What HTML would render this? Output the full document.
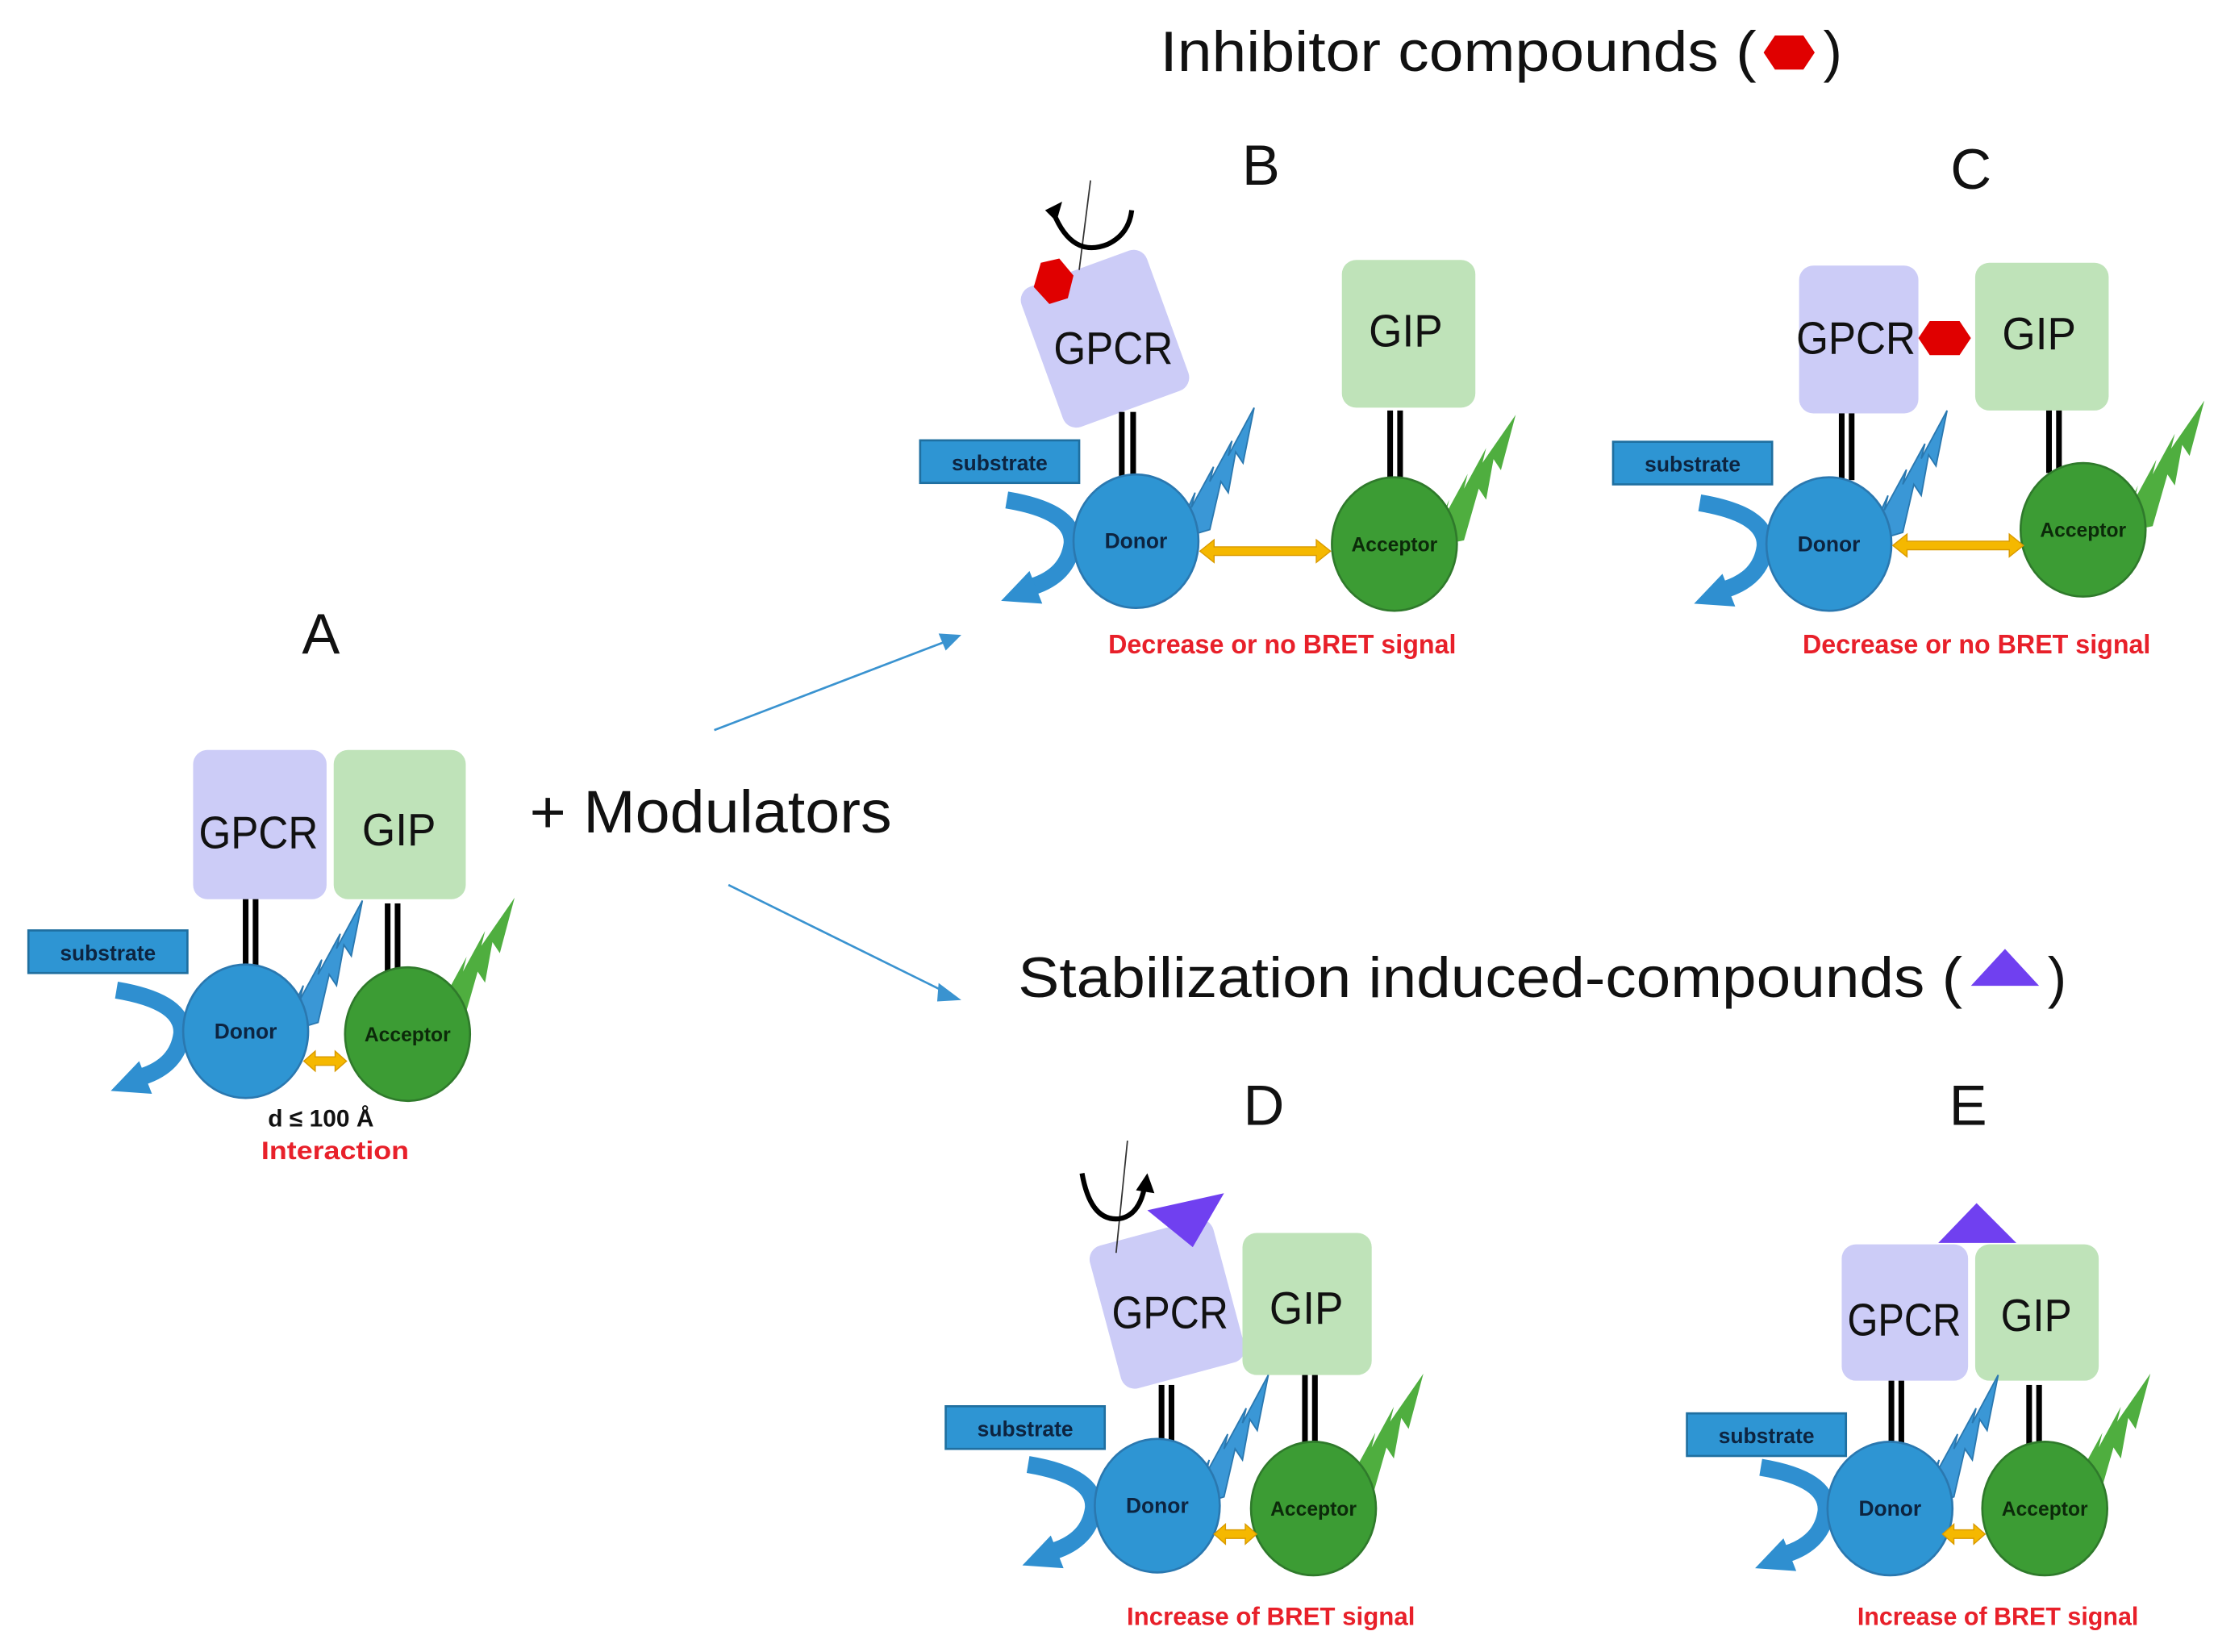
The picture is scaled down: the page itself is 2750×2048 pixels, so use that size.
<!DOCTYPE html>
<html><head><meta charset="utf-8"><style>
html,body{margin:0;padding:0;background:#fff;}
svg{display:block;}
text{font-family:"Liberation Sans","DejaVu Sans",sans-serif;}
</style></head><body>
<svg width="2750" height="2048" viewBox="0 0 1562 1163" preserveAspectRatio="none" xmlns="http://www.w3.org/2000/svg">
<defs>
<g id="boltB"><path transform="scale(1.3)" d="M0,12 L12,-14 L10,-6 L22,-28 L20,-20 L32,-42 L30,-34 L44,-60 L38,-30 L34,-36 L30,-14 L26,-20 L20,6 Z" fill="#3a97d6" stroke="#2a78b0" stroke-width="0.8"/></g>
<g id="boltG"><path transform="scale(1.3)" d="M0,12 L12,-14 L10,-6 L22,-28 L20,-20 L32,-42 L30,-34 L48,-60 L40,-30 L36,-36 L32,-14 L28,-20 L20,8 Z" fill="#4fae3f"/></g>
<g id="curl"><path d="M-91,-29 Q-43,-21 -45,2 Q-48,24 -73,32" fill="none" stroke="#2f8fd0" stroke-width="12"/><polygon points="-75,21 -95,42 -66,44" fill="#2f8fd0"/></g>
<g id="donor"><use href="#curl"/><ellipse cx="0" cy="0" rx="44" ry="47" fill="#2e95d3" stroke="#2a78b0" stroke-width="1.5"/><text x="0" y="5" font-size="15" font-weight="bold" text-anchor="middle" fill="#0d2440">Donor</text></g>
<g id="acc"><ellipse cx="0" cy="0" rx="44" ry="47" fill="#3c9c34" stroke="#2f7a2b" stroke-width="1.5"/><text x="0" y="5" font-size="14" font-weight="bold" text-anchor="middle" fill="#0c2a0a">Acceptor</text></g>
<g id="sub"><rect x="0" y="0" width="112" height="30" fill="#2e95d3" stroke="#1f6fa0" stroke-width="1.5"/><text x="56" y="21" font-size="15" font-weight="bold" text-anchor="middle" fill="#0d2440">substrate</text></g>
</defs>

<!-- Titles -->
<text x="817" y="50" font-size="40" fill="#111" textLength="420" lengthAdjust="spacingAndGlyphs">Inhibitor compounds (</text>
<polygon points="1250,25 1270,25 1278,37 1270,49 1250,49 1242,37" fill="#e00000"/>
<text x="1284" y="50" font-size="40" fill="#111">)</text>
<text x="717" y="702" font-size="40" fill="#111" textLength="665" lengthAdjust="spacingAndGlyphs">Stabilization induced-compounds (</text>
<polygon points="1388,694 1436,694 1412,668" fill="#7040f0"/>
<text x="1442" y="702" font-size="40" fill="#111">)</text>
<text x="373" y="586" font-size="42" fill="#111" textLength="255" lengthAdjust="spacingAndGlyphs">+ Modulators</text>

<!-- arrows -->
<line x1="503" y1="514" x2="665" y2="452" stroke="#3a93d0" stroke-width="1.5"/>
<polygon points="677,447 661,446 666,458" fill="#3a93d0"/>
<line x1="513" y1="623" x2="665" y2="698" stroke="#3a93d0" stroke-width="1.5"/>
<polygon points="677,704 661,692 660,705" fill="#3a93d0"/>

<!-- Panel A -->
<text x="226" y="460" font-size="40" text-anchor="middle" fill="#111">A</text>
<rect x="136" y="528" width="94" height="105" rx="10" fill="#ccccf7"/>
<text x="182" y="597" font-size="32" text-anchor="middle" fill="#111" textLength="84" lengthAdjust="spacingAndGlyphs">GPCR</text>
<rect x="235" y="528" width="93" height="105" rx="10" fill="#bfe3b9"/>
<text x="281" y="595" font-size="32" text-anchor="middle" fill="#111" textLength="52" lengthAdjust="spacingAndGlyphs">GIP</text>
<rect x="171" y="633" width="4" height="48" fill="#000"/><rect x="178" y="633" width="4" height="48" fill="#000"/>
<rect x="271" y="636" width="4" height="48" fill="#000"/><rect x="278" y="636" width="4" height="48" fill="#000"/>
<use href="#boltB" x="198" y="712"/>
<use href="#boltG" x="300" y="710"/>
<use href="#sub" x="20" y="655"/>
<use href="#donor" x="173" y="726"/>
<use href="#acc" x="287" y="728"/>
<path d="M214,747 L222,740 L222,744 L236,744 L236,740 L244,747 L236,754 L236,750 L222,750 L222,754 Z" fill="#f5b800" stroke="#d99a00" stroke-width="0.8"/>
<text x="226" y="793" font-size="17" font-weight="bold" text-anchor="middle" fill="#111">d ≤ 100 Å</text>
<text x="236" y="816" font-size="18" font-weight="bold" text-anchor="middle" fill="#e8202a" textLength="104" lengthAdjust="spacingAndGlyphs">Interaction</text>

<!-- Panel B -->
<text x="888" y="130" font-size="40" text-anchor="middle" fill="#111">B</text>
<g transform="rotate(-20 778 238)"><rect x="731" y="186" width="94" height="105" rx="10" fill="#ccccf7"/></g>
<text x="784" y="256" font-size="32" text-anchor="middle" fill="#111" textLength="84" lengthAdjust="spacingAndGlyphs">GPCR</text>
<polygon points="733,185 746,182 756,194 752,210 739,214 728,202" fill="#e00000"/>
<line x1="768" y1="127" x2="760" y2="190" stroke="#333" stroke-width="1"/>
<path d="M742,150 Q755,182 780,172 Q795,165 797,148" fill="none" stroke="#000" stroke-width="3.5"/>
<polygon points="736,148 748,142 744,156" fill="#000"/>
<rect x="945" y="183" width="94" height="104" rx="10" fill="#bfe3b9"/>
<text x="990" y="244" font-size="32" text-anchor="middle" fill="#111" textLength="52" lengthAdjust="spacingAndGlyphs">GIP</text>
<rect x="788" y="290" width="4" height="47" fill="#000"/><rect x="796" y="290" width="4" height="47" fill="#000"/>
<rect x="977" y="289" width="4" height="48" fill="#000"/><rect x="984" y="289" width="4" height="48" fill="#000"/>
<use href="#boltB" x="826" y="365"/>
<use href="#boltG" x="1005" y="370"/>
<use href="#sub" x="648" y="310"/>
<use href="#donor" x="800" y="381"/>
<use href="#acc" x="982" y="383"/>
<path d="M845,388 L855,380 L855,385 L927,385 L927,380 L937,388 L927,396 L927,391 L855,391 L855,396 Z" fill="#f5b800" stroke="#d99a00" stroke-width="0.8"/>
<text x="903" y="460" font-size="19" font-weight="bold" text-anchor="middle" fill="#e8202a" textLength="245" lengthAdjust="spacingAndGlyphs">Decrease or no BRET signal</text>

<!-- Panel C -->
<text x="1388" y="133" font-size="40" text-anchor="middle" fill="#111">C</text>
<rect x="1267" y="187" width="84" height="104" rx="10" fill="#ccccf7"/>
<text x="1307" y="249" font-size="32" text-anchor="middle" fill="#111" textLength="84" lengthAdjust="spacingAndGlyphs">GPCR</text>
<rect x="1391" y="185" width="94" height="104" rx="10" fill="#bfe3b9"/>
<text x="1436" y="246" font-size="32" text-anchor="middle" fill="#111" textLength="52" lengthAdjust="spacingAndGlyphs">GIP</text>
<polygon points="1359,226 1380,226 1388,238 1380,250 1359,250 1351,238" fill="#e00000"/>
<rect x="1295" y="291" width="4" height="47" fill="#000"/><rect x="1302" y="291" width="4" height="47" fill="#000"/>
<rect x="1441" y="289" width="4" height="44" fill="#000"/><rect x="1448" y="289" width="4" height="44" fill="#000"/>
<use href="#boltB" x="1314" y="367"/>
<use href="#boltG" x="1490" y="360"/>
<use href="#sub" x="1136" y="311"/>
<use href="#donor" x="1288" y="383"/>
<use href="#acc" x="1467" y="373"/>
<path d="M1333,384 L1343,376 L1343,381 L1415,381 L1415,376 L1425,384 L1415,392 L1415,387 L1343,387 L1343,392 Z" fill="#f5b800" stroke="#d99a00" stroke-width="0.8"/>
<text x="1392" y="460" font-size="19" font-weight="bold" text-anchor="middle" fill="#e8202a" textLength="245" lengthAdjust="spacingAndGlyphs">Decrease or no BRET signal</text>

<!-- Panel D -->
<text x="890" y="792" font-size="40" text-anchor="middle" fill="#111">D</text>
<g transform="rotate(-15 822 918)"><rect x="777" y="866" width="90" height="104" rx="10" fill="#ccccf7"/></g>
<text x="824" y="935" font-size="32" text-anchor="middle" fill="#111" textLength="82" lengthAdjust="spacingAndGlyphs">GPCR</text>
<rect x="875" y="868" width="91" height="100" rx="10" fill="#bfe3b9"/>
<text x="920" y="932" font-size="32" text-anchor="middle" fill="#111" textLength="52" lengthAdjust="spacingAndGlyphs">GIP</text>
<polygon points="808,852 862,840 840,878" fill="#7040f0"/>
<line x1="794" y1="803" x2="786" y2="882" stroke="#333" stroke-width="1"/>
<path d="M762,826 Q768,860 788,858 Q802,856 806,836" fill="none" stroke="#000" stroke-width="3.5"/>
<polygon points="800,838 808,826 813,840" fill="#000"/>
<rect x="816" y="975" width="4" height="43" fill="#000"/><rect x="823" y="975" width="4" height="43" fill="#000"/>
<rect x="917" y="968" width="4" height="50" fill="#000"/><rect x="924" y="968" width="4" height="50" fill="#000"/>
<use href="#boltB" x="836" y="1046"/>
<use href="#boltG" x="940" y="1045"/>
<use href="#sub" x="666" y="990"/>
<use href="#donor" x="815" y="1060"/>
<use href="#acc" x="925" y="1062"/>
<path d="M855,1080 L863,1073 L863,1077 L877,1077 L877,1073 L885,1080 L877,1087 L877,1083 L863,1083 L863,1087 Z" fill="#f5b800" stroke="#d99a00" stroke-width="0.8"/>
<text x="895" y="1144" font-size="18" font-weight="bold" text-anchor="middle" fill="#e8202a" textLength="203" lengthAdjust="spacingAndGlyphs">Increase of BRET signal</text>

<!-- Panel E -->
<text x="1386" y="792" font-size="40" text-anchor="middle" fill="#111">E</text>
<rect x="1297" y="876" width="89" height="96" rx="10" fill="#ccccf7"/>
<text x="1341" y="940" font-size="32" text-anchor="middle" fill="#111" textLength="80" lengthAdjust="spacingAndGlyphs">GPCR</text>
<rect x="1391" y="876" width="87" height="96" rx="10" fill="#bfe3b9"/>
<text x="1434" y="937" font-size="32" text-anchor="middle" fill="#111" textLength="50" lengthAdjust="spacingAndGlyphs">GIP</text>
<polygon points="1365,875 1420,875 1392,847" fill="#7040f0"/>
<rect x="1330" y="972" width="4" height="46" fill="#000"/><rect x="1337" y="972" width="4" height="46" fill="#000"/>
<rect x="1427" y="975" width="4" height="44" fill="#000"/><rect x="1434" y="975" width="4" height="44" fill="#000"/>
<use href="#boltB" x="1350" y="1046"/>
<use href="#boltG" x="1452" y="1045"/>
<use href="#sub" x="1188" y="995"/>
<use href="#donor" x="1331" y="1062"/>
<use href="#acc" x="1440" y="1062"/>
<path d="M1368,1080 L1376,1073 L1376,1077 L1390,1077 L1390,1073 L1398,1080 L1390,1087 L1390,1083 L1376,1083 L1376,1087 Z" fill="#f5b800" stroke="#d99a00" stroke-width="0.8"/>
<text x="1407" y="1144" font-size="18" font-weight="bold" text-anchor="middle" fill="#e8202a" textLength="198" lengthAdjust="spacingAndGlyphs">Increase of BRET signal</text>
</svg>
</body></html>
